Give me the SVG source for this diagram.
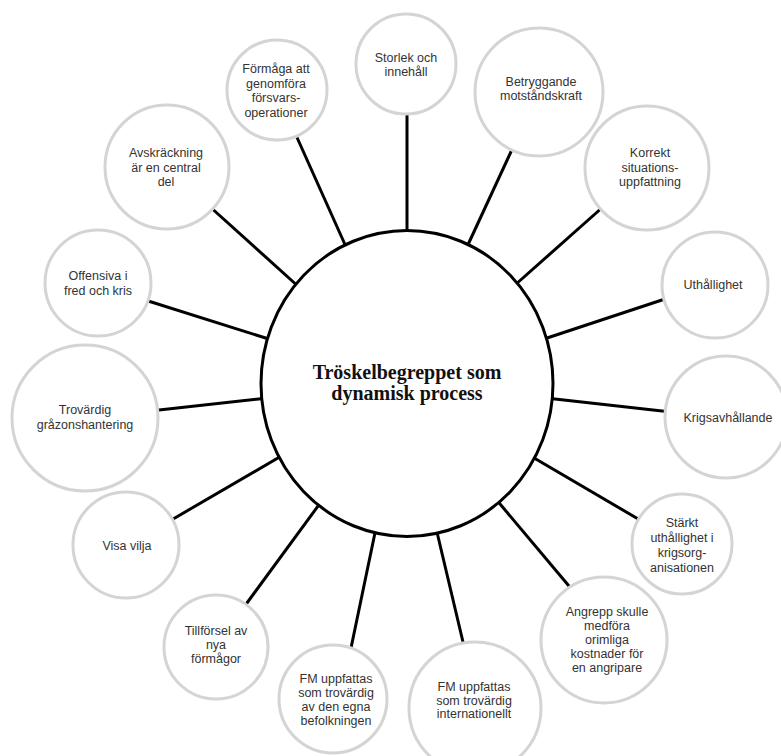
<svg xmlns="http://www.w3.org/2000/svg" width="781" height="756" viewBox="0 0 781 756">
<style>
.con line{stroke:#000;stroke-width:3;stroke-linecap:butt}
.sat{fill:#fff;stroke:#d4d4d4;stroke-width:3}
.st{font-family:"Liberation Sans",Arial,sans-serif;font-size:12.5px;fill:#333;text-anchor:middle}
.main{fill:#fff;stroke:#000;stroke-width:3}
.mt{font-family:"Liberation Serif","Times New Roman",serif;font-size:20px;font-weight:bold;fill:#111;text-anchor:middle}
</style>
<rect width="781" height="756" fill="#fff"/>
<g id="connectors" class="con">
<line x1="407" y1="236" x2="407" y2="108"/>
<line x1="347" y1="249" x2="295" y2="133"/>
<line x1="466" y1="249" x2="515" y2="143"/>
<line x1="515" y1="285" x2="604" y2="206"/>
<line x1="541" y1="340" x2="668" y2="298"/>
<line x1="546" y1="398" x2="671" y2="412"/>
<line x1="529" y1="455" x2="645" y2="523"/>
<line x1="495" y1="498" x2="574" y2="592"/>
<line x1="436" y1="528" x2="463" y2="642"/>
<line x1="376" y1="528" x2="351" y2="648"/>
<line x1="321" y1="502" x2="244" y2="607"/>
<line x1="283" y1="455" x2="168" y2="522"/>
<line x1="268" y1="398" x2="150" y2="411"/>
<line x1="272" y1="340" x2="145" y2="300"/>
<line x1="300" y1="288" x2="208" y2="205"/>
</g>
<g id="center">
<ellipse class="main" cx="407" cy="383.5" rx="146" ry="153"/>
<text class="mt" x="407" y="379">Tröskelbegreppet som</text>
<text class="mt" x="407" y="400">dynamisk process</text>
</g>
<g id="n1"><circle class="sat" cx="406" cy="64" r="50"/><text class="st" x="406" y="62">Storlek och</text><text class="st" x="406" y="76">innehåll</text></g>
<g id="n2"><circle class="sat" cx="277" cy="90" r="50"/><text class="st" x="276" y="73">Förmåga att</text><text class="st" x="276" y="87.5">genomföra</text><text class="st" x="276" y="102">försvars-</text><text class="st" x="276" y="116.5">operationer</text></g>
<g id="n3"><circle class="sat" cx="539" cy="92" r="64"/><text class="st" x="541" y="86">Betryggande</text><text class="st" x="541" y="100">motståndskraft</text></g>
<g id="n4"><circle class="sat" cx="647" cy="168" r="62"/><text class="st" x="650" y="157">Korrekt</text><text class="st" x="650" y="172">situations-</text><text class="st" x="650" y="186">uppfattning</text></g>
<g id="n5"><circle class="sat" cx="715" cy="285" r="53"/><text class="st" x="713" y="289">Uthållighet</text></g>
<g id="n6"><circle class="sat" cx="726" cy="417" r="61"/><text class="st" x="728" y="422">Krigsavhållande</text></g>
<g id="n7"><circle class="sat" cx="682" cy="544" r="50"/><text class="st" x="682" y="527">Stärkt</text><text class="st" x="682" y="542">uthållighet i</text><text class="st" x="682" y="557">krigsorg-</text><text class="st" x="682" y="572">anisationen</text></g>
<g id="n8"><circle class="sat" cx="604" cy="640" r="63"/><text class="st" x="607" y="616">Angrepp skulle</text><text class="st" x="607" y="630">medföra</text><text class="st" x="607" y="644">orimliga</text><text class="st" x="607" y="658">kostnader för</text><text class="st" x="607" y="672">en angripare</text></g>
<g id="n9"><circle class="sat" cx="475" cy="708" r="66"/><text class="st" x="474" y="691">FM uppfattas</text><text class="st" x="474" y="704.5">som trovärdig</text><text class="st" x="474" y="718">internationellt</text></g>
<g id="n10"><circle class="sat" cx="333" cy="699" r="54"/><text class="st" x="336" y="683">FM uppfattas</text><text class="st" x="336" y="697">som trovärdig</text><text class="st" x="336" y="711">av den egna</text><text class="st" x="336" y="725">befolkningen</text></g>
<g id="n11"><circle class="sat" cx="216" cy="647" r="52"/><text class="st" x="216" y="635">Tillförsel av</text><text class="st" x="216" y="649">nya</text><text class="st" x="216" y="663">förmågor</text></g>
<g id="n12"><circle class="sat" cx="126" cy="545" r="53"/><text class="st" x="127" y="550">Visa vilja</text></g>
<g id="n13"><circle class="sat" cx="85" cy="418" r="73"/><text class="st" x="85" y="414">Trovärdig</text><text class="st" x="85" y="429">gråzonshantering</text></g>
<g id="n14"><circle class="sat" cx="98" cy="283" r="53"/><text class="st" x="98" y="280">Offensiva i</text><text class="st" x="98" y="295">fred och kris</text></g>
<g id="n15"><circle class="sat" cx="167" cy="167" r="62"/><text class="st" x="166" y="157">Avskräckning</text><text class="st" x="166" y="172">är en central</text><text class="st" x="166" y="186">del</text></g>
</svg>
